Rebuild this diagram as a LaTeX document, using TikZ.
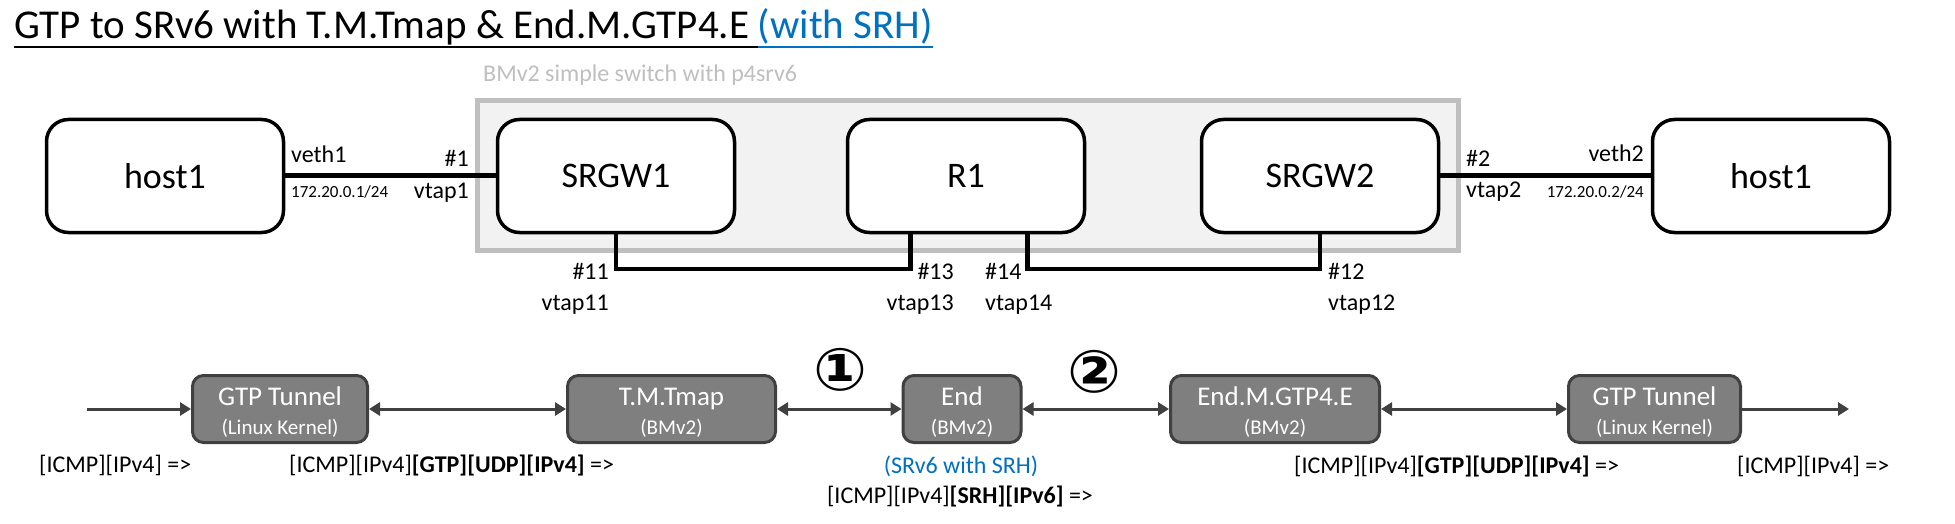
\documentclass[tikz,border=0pt]{standalone}
\usepackage{fontspec}
\setmainfont{Carlito}
\newfontfamily\symfont{DejaVu Sans}
\usetikzlibrary{arrows.meta}
\definecolor{boxgray}{HTML}{F2F2F2}
\definecolor{bordergray}{HTML}{BFBFBF}
\definecolor{darkfill}{HTML}{7F7F7F}
\definecolor{darkline}{HTML}{404040}
\definecolor{linkblue}{HTML}{0070C0}
\newcommand\fsz[1]{\fontsize{#1}{#1}\selectfont}
\tikzset{
  hostbox/.style={draw, line width=3.5pt, rounded corners=22pt, minimum width=237pt, minimum height=113pt, inner sep=0pt, font=\fsz{36}, fill=white},
  port/.style={inner sep=0pt, font=\fsz{24}},
  ipst/.style={inner sep=0pt, font=\fsz{17}},
  fbox/.style={draw=darkline, fill=darkfill, line width=3pt, rounded corners=11pt, minimum height=67pt, inner sep=0pt},
  ftitle/.style={inner sep=0pt, text=white, font=\fsz{27}, anchor=base},
  fsub/.style={inner sep=0pt, text=white, font=\fsz{21}, anchor=base},
  biarr/.style={draw=darkline, line width=3pt, arrows={Triangle[length=11pt,width=13pt]-Triangle[length=11pt,width=13pt]}},
  onearr/.style={draw=darkline, line width=3pt, arrows={-Triangle[length=11pt,width=13pt]}},
  toplink/.style={line width=5pt},
  buslink/.style={line width=4.5pt},
  lab/.style={inner sep=0pt, font=\fsz{24}, anchor=base west},
  circnum/.style={inner sep=0pt, font=\symfont\bfseries\fsz{59}, xscale=1.08}
}
\begin{document}
\begin{tikzpicture}[x=1pt,y=-1pt]
\fill[white] (0,0) rectangle (1955,524);
\useasboundingbox (0,0) rectangle (1955,524);

% title
\node[inner sep=0pt, anchor=base west, font=\fsz{41}] (title) at (14,39) {GTP to SRv6 with T.M.Tmap \& End.M.GTP4.E};
\node[inner sep=0pt, anchor=base west, font=\fsz{41}, text=linkblue] (titleb) at ([xshift=8pt]title.base east) {(with SRH)};
\draw[line width=2pt] ([yshift=-8pt]title.base west) -- ([yshift=-8pt]titleb.base west);
\draw[line width=2pt, linkblue] ([yshift=-8pt]titleb.base west) -- ([yshift=-8pt]titleb.base east);

% switch frame
\node[draw=bordergray, fill=boxgray, line width=5pt, minimum width=981pt, minimum height=150pt, inner sep=0pt] (bmv) at (968,175.5) {};
\node[lab, text=bordergray] (bmvl) at (483,82) {BMv2 simple switch with p4srv6};

% boxes
\node[hostbox] (hL) at (165,176) {host1};
\node[hostbox] (sg1) at (616,176) {SRGW1};
\node[hostbox] (r1) at (966,176) {R1};
\node[hostbox] (sg2) at (1320,176) {SRGW2};
\node[hostbox] (hR) at (1771,176) {host1};

% links
\draw[toplink] (hL.east) -- (sg1.west);
\draw[toplink] (sg2.east) -- (hR.west);
\coordinate (bus) at (0,269);
\coordinate (r1w) at ([xshift=-55.5pt]r1.south);
\coordinate (r1e) at ([xshift=61.5pt]r1.south);
\draw[buslink] (sg1.south) -- (sg1.south |- bus) -- (r1w |- bus) -- (r1w);
\draw[buslink] (r1e) -- (r1e |- bus) -- (sg2.south |- bus) -- (sg2.south);

% port labels
\node[port, anchor=base west] (veth1) at (291,163) {veth1};
\node[ipst, anchor=base west] (ip1) at (291,197) {172.20.0.1/24};
\node[port, anchor=base east] (p1) at (469,167) {\#1};
\node[port, anchor=base east] (vt1) at (469,198) {vtap1};
\node[port, anchor=base west] (p2) at (1466,167) {\#2};
\node[port, anchor=base west] (vt2) at (1466,197) {vtap2};
\node[port, anchor=base east] (veth2) at (1644,162) {veth2};
\node[ipst, anchor=base east] (ip2) at (1644,197) {172.20.0.2/24};
\node[port, anchor=base east] (p11) at (609,279) {\#11};
\node[port, anchor=base east] (vt11) at (609,310) {vtap11};
\node[port, anchor=base east] (p13) at (954,279) {\#13};
\node[port, anchor=base east] (vt13) at (954,310) {vtap13};
\node[port, anchor=base west] (p14) at (985,279) {\#14};
\node[port, anchor=base west] (vt14) at (985,310) {vtap14};
\node[port, anchor=base west] (p12) at (1328,279) {\#12};
\node[port, anchor=base west] (vt12) at (1328,310) {vtap12};

% flow boxes
\node[fbox, minimum width=175pt] (gt1) at (280,409) {};
\node[fbox, minimum width=208pt] (tm) at (671.5,409) {};
\node[fbox, minimum width=118pt] (en) at (962,409) {};
\node[fbox, minimum width=209pt] (eg) at (1275,409) {};
\node[fbox, minimum width=172pt] (gt2) at (1654.5,409) {};

\node[ftitle] (gt1a) at ([yshift=4pt]gt1.center) {GTP Tunnel};
\node[fsub] (gt1b) at ([yshift=-25pt]gt1.center) {(Linux Kernel)};
\node[ftitle] (tma) at ([yshift=4pt]tm.center) {T.M.Tmap};
\node[fsub] (tmb) at ([yshift=-25pt]tm.center) {(BMv2)};
\node[ftitle] (ena) at ([yshift=4pt]en.center) {End};
\node[fsub] (enb) at ([yshift=-25pt]en.center) {(BMv2)};
\node[ftitle] (ega) at ([yshift=4pt]eg.center) {End.M.GTP4.E};
\node[fsub] (egb) at ([yshift=-25pt]eg.center) {(BMv2)};
\node[ftitle] (gt2a) at ([yshift=4pt]gt2.center) {GTP Tunnel};
\node[fsub] (gt2b) at ([yshift=-25pt]gt2.center) {(Linux Kernel)};

% flow arrows
\coordinate (fin) at (87,409);
\coordinate (fout) at (1849,409);
\draw[onearr] (fin) -- (gt1.west);
\draw[biarr] (gt1.east) -- (tm.west);
\draw[biarr] (tm.east) -- (en.west);
\draw[biarr] (en.east) -- (eg.west);
\draw[biarr] (eg.east) -- (gt2.west);
\draw[onearr] (gt2.east) -- (fout);

\node[circnum] (c1) at (840,370) {①};
\node[circnum] (c2) at (1094,372) {②};

% packet labels
\node[lab] (l1) at (39,472) {[ICMP][IPv4] =>};
\node[lab] (l2) at (289,472) {[ICMP][IPv4]\textbf{[GTP][UDP][IPv4]} =>};
\node[lab, anchor=base, text=linkblue] (srh) at (961,473) {(SRv6 with SRH)};
\node[lab, anchor=base] (l3) at (960,503) {[ICMP][IPv4]\textbf{[SRH][IPv6]} =>};
\node[lab] (l4) at (1294,473) {[ICMP][IPv4]\textbf{[GTP][UDP][IPv4]} =>};
\node[lab] (l5) at (1737,473) {[ICMP][IPv4] =>};
\end{tikzpicture}
\end{document}
